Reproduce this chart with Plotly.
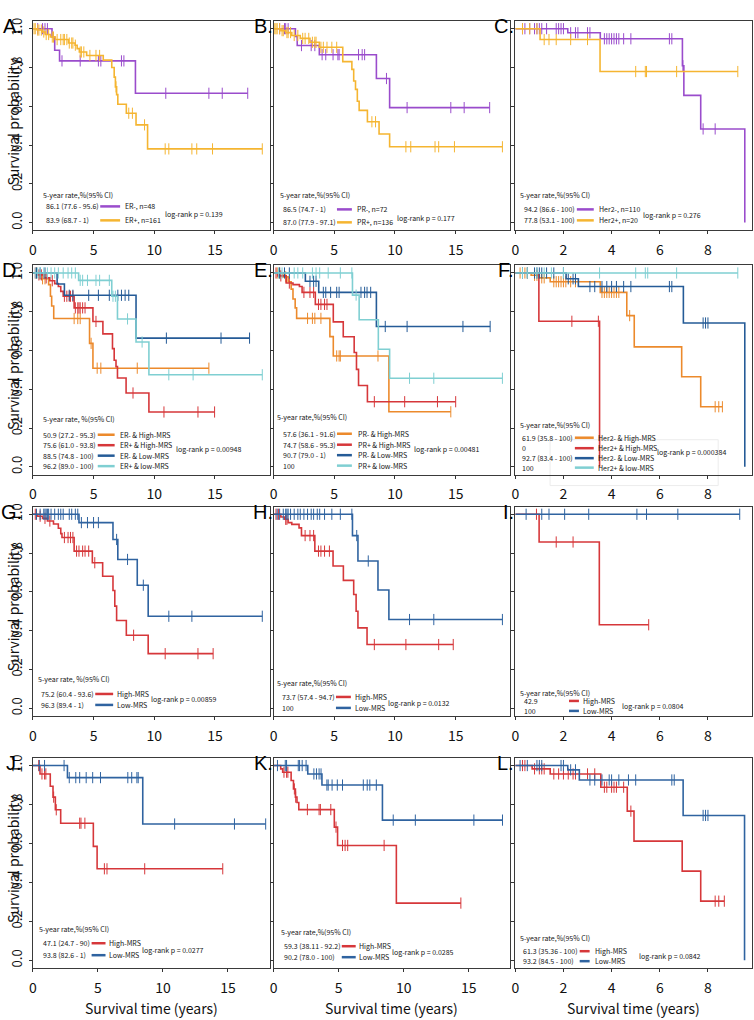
import plotly.graph_objects as go

# ------------------------------------------------------------------ DATA
# Each curve: event times (t), survival after each event (s), last follow-up (end), censor times (c)
# Panel A  (ER)
A_erneg_t = [1.58, 1.8, 2.2, 8.45]
A_erneg_s = [0.957, 0.889, 0.834, 0.667]
A_erneg_end = 17.7
A_erneg_c = [0.4, 0.8, 1.0, 1.2, 2.4, 3.9, 5.4, 5.6, 7.3, 7.5, 10.95, 14.5, 15.6, 17.7]
A_erpos_t = [0.35, 0.76, 1.03, 1.44, 1.85, 2.93, 3.48, 3.65, 3.83, 4.43, 5.8, 6.5, 6.7, 6.8, 6.9, 7.0, 7.7, 8.5, 9.45]
A_erpos_s = [0.993, 0.983, 0.97, 0.957, 0.944, 0.926, 0.915, 0.897, 0.88, 0.862, 0.838, 0.80, 0.75, 0.70, 0.66, 0.61, 0.564, 0.504, 0.38]
A_erpos_end = 18.9
A_erpos_c = [0.1, 0.2, 0.4, 0.5, 0.7, 0.9, 1.1, 1.3, 1.6, 1.7, 2.0, 2.3, 2.5, 2.6, 2.8, 3.0, 3.2, 3.3, 3.5, 3.9,
             4.0, 4.2, 4.7, 5.2, 5.5, 6.85, 7.9, 8.2, 9.2, 10.9, 11.2, 13.1, 13.5, 14.8, 18.9]
# Panel B  (PR)
B_prneg_t = [1.8, 1.95, 3.77, 8.47, 9.56]
B_prneg_s = [0.96, 0.913, 0.866, 0.743, 0.593]
B_prneg_end = 17.8
B_prneg_c = [0.5, 0.9, 1.0, 1.2, 2.3, 3.1, 3.4, 4.0, 4.3, 4.9, 5.3, 5.4, 7.0, 7.3, 7.5, 9.3, 11.0, 14.6, 15.7, 17.8]
B_prpos_t = [0.6, 1.0, 1.5, 2.2, 3.0, 3.77, 5.7, 6.45, 6.6, 6.75, 6.9, 7.05, 7.73, 8.69, 9.56]
B_prpos_s = [0.99, 0.98, 0.965, 0.95, 0.93, 0.904, 0.83, 0.79, 0.73, 0.687, 0.626, 0.579, 0.52, 0.457, 0.391]
B_prpos_end = 18.85
B_prpos_c = [0.1, 0.2, 0.3, 0.5, 0.7, 0.8, 1.1, 1.2, 1.4, 1.7, 2.0, 2.4, 2.6, 2.9, 3.2, 3.4, 3.5, 3.9, 4.1, 4.4,
             4.8, 5.2, 8.1, 8.4, 10.9, 11.3, 13.3, 13.6, 14.9, 18.85]
# Panel C  (Her2)
C_h2neg_t = [2.18, 3.53, 6.94, 7.0, 7.7, 9.53]
C_h2neg_s = [0.979, 0.948, 0.809, 0.656, 0.483, 0.0]
C_h2neg_end = 9.53
C_h2neg_c = [0.3, 0.4, 0.6, 0.8, 0.9, 1.0, 1.1, 1.3, 1.7, 1.8, 1.9, 2.0, 2.3, 2.5, 2.6, 3.0, 3.1, 3.7, 3.8, 3.9,
             4.0, 4.1, 4.2, 4.3, 4.5, 4.8, 6.4, 6.5, 6.96, 7.8, 8.3]
C_h2pos_t = [1.03, 3.52]
C_h2pos_s = [0.944, 0.779]
C_h2pos_end = 9.24
C_h2pos_c = [0.3, 0.6, 0.9, 1.2, 1.4, 1.7, 2.3, 3.0, 5.0, 5.4, 5.45, 6.7, 9.24]
# Panel D  (ER x MRS)
D_nh_t = [0.6, 1.3, 1.45, 1.55, 1.72, 4.67, 4.95]
D_nh_s = [0.97, 0.94, 0.88, 0.83, 0.765, 0.637, 0.509]
D_nh_end = 14.5
D_nh_c = [0.3, 0.8, 1.0, 3.4, 3.7, 3.9, 4.8, 5.3, 5.6, 8.6, 14.5]
D_ph_t = [0.4, 0.9, 1.4, 1.8, 2.1, 2.3, 2.5, 3.4, 4.95, 5.77, 6.56, 6.7, 6.85, 6.97, 7.68, 9.56]
D_ph_s = [0.99, 0.975, 0.96, 0.945, 0.93, 0.905, 0.88, 0.82, 0.75, 0.686, 0.61, 0.55, 0.517, 0.458, 0.381, 0.283]
D_ph_end = 14.97
D_ph_c = [0.2, 0.5, 0.7, 1.1, 1.6, 2.6, 2.8, 3.0, 3.1, 3.3, 3.5, 3.7, 3.8, 3.9, 4.1, 4.3, 5.2, 8.25, 10.8, 13.6, 14.97]
D_nl_t = [2.0, 2.6, 8.5]
D_nl_s = [0.943, 0.885, 0.664]
D_nl_end = 17.85
D_nl_c = [0.3, 0.6, 1.0, 3.0, 3.3, 4.6, 5.4, 6.3, 7.0, 7.3, 7.6, 7.9, 11.0, 15.5, 17.85]
D_pl_t = [3.77, 6.5, 6.97, 8.5, 9.56]
D_pl_s = [0.962, 0.88, 0.763, 0.644, 0.475]
D_pl_end = 18.9
D_pl_c = [0.2, 0.4, 0.6, 0.9, 1.2, 1.5, 1.8, 2.1, 2.5, 2.9, 3.2, 3.5, 3.9, 4.1, 4.5, 5.2, 5.5, 6.3, 6.6, 6.8,
          7.8, 9.0, 11.2, 13.2, 18.9]
# Panel E  (PR x MRS)
E_nh_t = [0.77, 1.2, 1.45, 1.6, 1.78, 1.9, 4.64, 4.92, 9.5]
E_nh_s = [0.98, 0.955, 0.917, 0.866, 0.82, 0.766, 0.672, 0.572, 0.284]
E_nh_end = 14.6
E_nh_c = [0.3, 0.5, 1.0, 2.8, 3.2, 3.4, 3.9, 5.2, 5.4, 5.5, 8.6, 14.6]
E_ph_t = [0.35, 1.04, 1.6, 2.13, 2.35, 3.44, 4.92, 5.74, 6.64, 6.83, 7.0, 7.73]
E_ph_s = [0.985, 0.948, 0.94, 0.93, 0.9, 0.838, 0.748, 0.671, 0.59, 0.503, 0.42, 0.336]
E_ph_end = 15.0
E_ph_c = [0.2, 0.6, 1.3, 2.5, 3.0, 3.3, 3.7, 3.9, 4.2, 4.4, 8.3, 10.8, 13.5, 15.0]
E_nl_t = [2.62, 3.72, 8.47]
E_nl_s = [0.957, 0.9, 0.724]
E_nl_end = 17.84
E_nl_c = [0.5, 0.9, 1.3, 3.0, 3.3, 3.5, 4.1, 4.3, 4.7, 5.2, 5.4, 7.2, 7.5, 7.7, 8.0, 9.2, 11.0, 15.6, 17.84]
E_pl_t = [6.5, 7.05, 8.63, 9.56]
E_pl_s = [0.886, 0.759, 0.607, 0.457]
E_pl_end = 18.85
E_pl_c = [0.4, 0.7, 1.7, 2.0, 2.4, 3.2, 3.5, 3.8, 4.5, 5.5, 6.45, 6.8, 11.2, 13.2, 18.85]
# Panel F  (Her2 x MRS)
F_nh_t = [0.66, 1.0, 1.45, 3.53, 4.63, 4.94, 6.91, 7.7]
F_nh_s = [0.988, 0.975, 0.955, 0.9, 0.78, 0.619, 0.465, 0.31]
F_nh_end = 8.6
F_nh_c = [0.2, 0.4, 0.5, 0.8, 0.9, 1.1, 1.2, 1.6, 1.7, 1.8, 1.9, 2.0, 2.1, 2.3, 2.5, 3.6, 3.7, 3.8, 3.9, 4.0,
          4.1, 4.2, 4.3, 4.75, 8.3, 8.45, 8.6]
F_ph_t = [0.98, 3.5]
F_ph_s = [0.751, 0.0]
F_ph_end = 3.5
F_ph_c = [2.35, 3.45]
F_nl_t = [2.11, 2.62, 6.98, 9.53]
F_nl_s = [0.97, 0.93, 0.742, 0.0]
F_nl_end = 9.53
F_nl_c = [0.3, 0.5, 0.8, 0.9, 1.0, 1.1, 1.3, 1.6, 2.0, 2.2, 2.4, 2.5, 3.1, 3.3, 3.6, 3.8, 4.0, 4.2, 4.5, 4.8,
          6.4, 6.5, 7.8, 7.9, 8.0]
F_pl_t = []
F_pl_s = []
F_pl_end = 9.24
F_pl_c = [0.3, 0.5, 0.9, 1.2, 1.5, 2.0, 3.5, 5.0, 5.4, 5.5, 6.7, 9.24]
# Panel G
G_hi_t = [0.4, 0.8, 1.2, 1.7, 2.1, 2.3, 2.4, 3.4, 4.9, 5.75, 6.6, 6.75, 6.9, 7.7, 9.5]
G_hi_s = [0.99, 0.979, 0.965, 0.95, 0.928, 0.9, 0.88, 0.81, 0.75, 0.68, 0.607, 0.526, 0.452, 0.376, 0.281]
G_hi_end = 14.85
G_hi_c = [0.2, 0.6, 1.0, 1.4, 2.6, 2.9, 3.1, 3.3, 3.6, 3.8, 4.1, 4.3, 4.6, 5.1, 8.3, 10.9, 13.6, 14.85]
G_lo_t = [3.8, 6.6, 7.0, 8.6, 9.5]
G_lo_s = [0.957, 0.87, 0.767, 0.634, 0.474]
G_lo_end = 18.9
G_lo_c = [0.3, 0.6, 0.9, 1.0, 1.1, 1.2, 1.3, 1.5, 1.8, 2.1, 2.3, 2.5, 3.0, 3.2, 3.5, 3.7, 4.0, 4.5, 5.0, 5.4,
          6.9, 7.8, 9.1, 11.2, 13.1, 18.9]
# Panel H
H_hi_t = [0.6, 0.9, 1.2, 1.5, 2.1, 2.3, 3.4, 4.9, 5.75, 6.6, 6.8, 6.95, 7.7]
H_hi_s = [0.986, 0.974, 0.957, 0.948, 0.93, 0.89, 0.81, 0.733, 0.659, 0.586, 0.5, 0.414, 0.328]
H_hi_end = 14.8
H_hi_c = [0.2, 0.4, 1.0, 1.1, 2.6, 3.0, 3.3, 3.7, 3.9, 4.2, 4.6, 8.3, 10.9, 13.6, 14.8]
H_lo_t = [6.5, 6.95, 8.6, 9.5]
H_lo_s = [0.89, 0.759, 0.609, 0.457]
H_lo_end = 18.85
H_lo_c = [0.3, 0.5, 0.8, 1.0, 1.1, 1.2, 1.4, 1.7, 2.0, 2.2, 2.5, 2.8, 3.1, 3.3, 3.6, 3.8, 4.2, 4.8, 5.5, 6.45,
          6.85, 7.8, 11.2, 13.2, 18.85]
# Panel I
I_hi_t = [0.99, 3.49]
I_hi_s = [0.857, 0.43]
I_hi_end = 5.54
I_hi_c = [0.88, 1.7, 2.4, 5.54]
I_lo_t = []
I_lo_s = []
I_lo_end = 9.32
I_lo_c = [0.45, 1.1, 1.4, 2.05, 3.05, 5.05, 5.45, 6.75, 9.32]
# Panel J
J_hi_t = [0.55, 1.34, 1.55, 1.73, 2.14, 4.65, 4.94]
J_hi_s = [0.957, 0.894, 0.838, 0.773, 0.704, 0.585, 0.47]
J_hi_end = 14.6
J_hi_c = [0.45, 0.7, 0.9, 1.0, 1.6, 1.8, 3.6, 3.7, 4.0, 5.5, 5.7, 8.6, 14.6]
J_lo_t = [2.66, 8.45]
J_lo_s = [0.938, 0.70]
J_lo_end = 17.9
J_lo_c = [0.5, 0.9, 2.4, 2.8, 3.3, 3.6, 4.1, 4.6, 5.2, 7.3, 7.6, 8.0, 8.1, 10.9, 15.5, 17.9]
# Panel K
K_hi_t = [0.55, 0.7, 1.35, 1.53, 1.68, 1.8, 1.94, 4.67, 4.92, 9.44]
K_hi_s = [0.983, 0.966, 0.923, 0.88, 0.838, 0.81, 0.774, 0.684, 0.59, 0.294]
K_hi_end = 14.4
K_hi_c = [0.8, 1.0, 1.1, 1.6, 1.7, 2.6, 3.5, 3.6, 4.4, 4.8, 5.3, 5.5, 5.7, 8.5, 14.4]
K_lo_t = [2.63, 3.72, 8.37]
K_lo_s = [0.957, 0.90, 0.72]
K_lo_end = 17.6
K_lo_c = [0.3, 0.9, 1.0, 1.9, 2.0, 2.2, 2.5, 3.1, 3.3, 3.5, 3.65, 4.1, 4.2, 4.5, 4.9, 5.3, 6.9, 7.2, 7.4, 7.9,
          9.2, 10.9, 15.4, 17.6]
# Panel L
L_hi_t = [0.7, 1.45, 3.55, 4.65, 4.93, 6.93, 7.7]
L_hi_s = [0.983, 0.957, 0.889, 0.766, 0.612, 0.458, 0.304]
L_hi_end = 8.68
L_hi_c = [0.3, 0.4, 0.8, 1.0, 1.1, 1.2, 1.6, 1.8, 2.0, 2.2, 2.4, 2.5, 3.0, 3.3, 3.7, 3.8, 4.0, 4.1, 4.2, 4.5,
          4.8, 8.3, 8.45, 8.68]
L_lo_t = [2.18, 2.66, 6.97, 9.52]
L_lo_s = [0.978, 0.926, 0.744, 0.0]
L_lo_end = 9.52
L_lo_c = [0.2, 0.5, 0.9, 1.0, 1.1, 1.9, 2.0, 2.3, 2.5, 3.1, 3.3, 3.6, 3.9, 4.0, 4.3, 4.7, 5.0, 6.5, 6.6, 7.8,
          7.9, 8.0]

# legend texts
panel_letters = ["A.", "B.", "C.", "D.", "E.", "F.", "G.", "H.", "I.", "J.", "K.", "L."]
A_rates = ["86.1 (77.6 - 95.6)", "83.9 (68.7 - 1)"]
A_labels = ["ER-, n=48", "ER+, n=161"]
B_rates = ["86.5 (74.7 - 1)", "87.0 (77.9 - 97.1)"]
B_labels = ["PR-, n=72", "PR+, n=136"]
C_rates = ["94.2 (86.6 - 100)", "77.8 (53.1 - 100)"]
C_labels = ["Her2-, n=110", "Her2+, n=20"]
D_rates = ["50.9 (27.2 - 95.3)", "75.6 (61.0 - 93.8)", "88.5 (74.8 - 100)", "96.2 (89.0 - 100)"]
D_labels = ["ER- & High-MRS", "ER+ & High-MRS", "ER- & Low-MRS", "ER+ & low-MRS"]
E_rates = ["57.6 (36.1 - 91.6)", "74.7 (58.6 - 95.3)", "90.7 (79.0 - 1)", "100"]
E_labels = ["PR- & High-MRS", "PR+ & High-MRS", "PR- & Low-MRS", "PR+ & low-MRS"]
F_rates = ["61.9 (35.8 - 100)", "0", "92.7 (83.4 - 100)", "100"]
F_labels = ["Her2- & High-MRS", "Her2+ & High-MRS", "Her2- & Low-MRS", "Her2+ & low-MRS"]
G_rates = ["75.2 (60.4 - 93.6)", "96.3 (89.4 - 1)"]
H_rates = ["73.7 (57.4 - 94.7)", "100"]
I_rates = ["42.9", "100"]
J_rates = ["47.1 (24.7 - 90)", "93.8 (82.6 - 1)"]
K_rates = ["59.3 (38.11 - 92.2)", "90.2 (78.0 - 100)"]
L_rates = ["61.3 (35.36 - 100)", "93.2 (84.5 - 100)"]
MRS_labels = ["High-MRS", "Low-MRS"]
pvals = ["0.139", "0.177", "0.276", "0.00948", "0.00481", "0.000384",
         "0.00859", "0.0132", "0.0804", "0.0277", "0.0285", "0.0842"]
headers = ["5-year rate,%(95% CI)", "5-year rate,%(95% CI)", "5-year rate,%(95% CI)",
           "5-year rate, %(95% CI)", "5-year rate,%(95% CI)", "5-year rate,%(95% CI)",
           "5-year rate, %(95% CI)", "5-year rate,%(95% CI)", "5-year rate,%(95% CI)",
           "5-year rate,%(95% CI)", "5-year rate,%(95% CI)", "5-year rate,%(95% CI)"]
y_ticks = [0.0, 0.2, 0.4, 0.6, 0.8, 1.0]
y_ticklabels = ["0.0", "0.2", "0.4", "0.6", "0.8", "1.0"]
x_ticks_long = [0, 5, 10, 15]
x_ticks_short = [0, 2, 4, 6, 8]

# ------------------------------------------------------------------ STYLE
PURPLE = "#9a4ccc"
GOLD = "#f5b531"
ORANGE = "#ec8a2c"
RED = "#d6373a"
NAVY = "#255b97"
CYAN = "#7fcfd2"
BLUE = "#2f63a0"

panels = [
    [(A_erneg_t, A_erneg_s, A_erneg_end, A_erneg_c, PURPLE), (A_erpos_t, A_erpos_s, A_erpos_end, A_erpos_c, GOLD)],
    [(B_prneg_t, B_prneg_s, B_prneg_end, B_prneg_c, PURPLE), (B_prpos_t, B_prpos_s, B_prpos_end, B_prpos_c, GOLD)],
    [(C_h2neg_t, C_h2neg_s, C_h2neg_end, C_h2neg_c, PURPLE), (C_h2pos_t, C_h2pos_s, C_h2pos_end, C_h2pos_c, GOLD)],
    [(D_nh_t, D_nh_s, D_nh_end, D_nh_c, ORANGE), (D_ph_t, D_ph_s, D_ph_end, D_ph_c, RED),
     (D_nl_t, D_nl_s, D_nl_end, D_nl_c, NAVY), (D_pl_t, D_pl_s, D_pl_end, D_pl_c, CYAN)],
    [(E_nh_t, E_nh_s, E_nh_end, E_nh_c, ORANGE), (E_ph_t, E_ph_s, E_ph_end, E_ph_c, RED),
     (E_nl_t, E_nl_s, E_nl_end, E_nl_c, NAVY), (E_pl_t, E_pl_s, E_pl_end, E_pl_c, CYAN)],
    [(F_nh_t, F_nh_s, F_nh_end, F_nh_c, ORANGE), (F_ph_t, F_ph_s, F_ph_end, F_ph_c, RED),
     (F_nl_t, F_nl_s, F_nl_end, F_nl_c, NAVY), (F_pl_t, F_pl_s, F_pl_end, F_pl_c, CYAN)],
    [(G_hi_t, G_hi_s, G_hi_end, G_hi_c, RED), (G_lo_t, G_lo_s, G_lo_end, G_lo_c, BLUE)],
    [(H_hi_t, H_hi_s, H_hi_end, H_hi_c, RED), (H_lo_t, H_lo_s, H_lo_end, H_lo_c, BLUE)],
    [(I_hi_t, I_hi_s, I_hi_end, I_hi_c, RED), (I_lo_t, I_lo_s, I_lo_end, I_lo_c, BLUE)],
    [(J_hi_t, J_hi_s, J_hi_end, J_hi_c, RED), (J_lo_t, J_lo_s, J_lo_end, J_lo_c, BLUE)],
    [(K_hi_t, K_hi_s, K_hi_end, K_hi_c, RED), (K_lo_t, K_lo_s, K_lo_end, K_lo_c, BLUE)],
    [(L_hi_t, L_hi_s, L_hi_end, L_hi_c, RED), (L_lo_t, L_lo_s, L_lo_end, L_lo_c, BLUE)],
]
legend_rates = [A_rates, B_rates, C_rates, D_rates, E_rates, F_rates, G_rates, H_rates, I_rates, J_rates, K_rates, L_rates]
legend_labels = [A_labels, B_labels, C_labels, D_labels, E_labels, F_labels] + [MRS_labels] * 6

# legend placement offsets (px): header x/up, values x, row heights above box bottom, line x0/x1, label x, p x/up
leg_pos = [
    (8, 35, 11, [24, 10], 58, 78, 81, 118, 16),
    (4, 35, 7, [21, 8], 51, 66, 69, 107, 12),
    (3, 35, 7, [21, 10], 54, 71, 74, 114, 15),
    (8, 56, 8.5, [40, 29.5, 19, 8.5], 58, 75, 78, 135, 26),
    (1, 58, 7, [41, 30, 19.5, 9], 51, 66, 70, 126, 26),
    (3, 50, 5, [37, 26.5, 16.5, 7], 54, 73, 75, 133, 23),
    (3, 37, 6, [22, 11], 53, 71, 73, 97, 17),
    (1, 33, 6, [19, 8], 49, 64, 66, 86, 13),
    (3, 23, 7, [15, 5], 54, 64, 66, 105, 10),
    (4, 39, 8, [25, 13], 54, 68, 69, 99, 18),
    (5, 36, 8, [22, 11], 48, 62, 63, 95, 16),
    (3, 30, 6, [17, 7], 54, 64, 67, 112, 12),
]

W, H = 754, 1020
COL_L = [29, 271, 514]
COL_W = 238
ROW_T = [18, 263, 505, 757]
ROW_B = [228, 473, 715, 968]

HUMAN = "Noto Sans CJK SC, Source Sans Pro, Lato, sans-serif"
LEG_SIZE = 7

_CW = {".": .26, ",": .26, " ": .23, "(": .32, ")": .32, "-": .33, "%": .86, "&": .66, "=": .55, "+": .55,
       "i": .25, "l": .26, "r": .35, "t": .35, "m": .84, "w": .74, "I": .28}


def text_w(s, size=LEG_SIZE):
    w = 0.0
    for ch in s:
        if ch in _CW:
            w += _CW[ch]
        elif ch.isdigit():
            w += .55
        elif ch.isupper():
            w += .62
        else:
            w += .52
    return w * size


def surv_at(t, times, survs):
    v = 1.0
    for ti, si in zip(times, survs):
        if ti <= t:
            v = si
    return v


def px_x(p):
    return p / W


def px_y(p):
    return 1 - p / H


fig = go.Figure()
layout = dict(
    width=W, height=H, margin=dict(l=0, r=0, t=0, b=0),
    paper_bgcolor="white", plot_bgcolor="white", showlegend=False,
)
annotations = []
shapes = []


def text_ann(txt, xp, yp, size=LEG_SIZE, anchor="left"):
    return dict(text=txt, x=px_x(xp), y=px_y(yp), xref="paper", yref="paper",
                xanchor=anchor, yanchor="middle", showarrow=False,
                font=dict(family=HUMAN, size=size, color="#151515"))


for k in range(12):
    r, c = divmod(k, 3)
    n = k + 1
    xa = "x" if n == 1 else f"x{n}"
    ya = "y" if n == 1 else f"y{n}"
    xkey = "xaxis" if n == 1 else f"xaxis{n}"
    ykey = "yaxis" if n == 1 else f"yaxis{n}"
    left, right = COL_L[c], COL_L[c] + COL_W
    top, bot = ROW_T[r], ROW_B[r]
    if c == 2:
        xr, xt = [0, 9.83], x_ticks_short
    elif r == 3:
        xr, xt = [0, 18.2], x_ticks_long
    else:
        xr, xt = [0, 19.5], x_ticks_long
    layout[xkey] = dict(
        domain=[px_x(left), px_x(right)], range=xr, anchor=ya,
        tickvals=xt, ticks="outside", ticklen=3, tickcolor="#333",
        showline=True, mirror=True, linecolor="#3a3a3a", linewidth=1,
        showgrid=False, zeroline=False,
        tickfont=dict(family=HUMAN, size=14, color="#111"), ticklabelstandoff=4,
    )
    layout[ykey] = dict(
        domain=[px_y(bot), px_y(top)], range=[-0.04, 1.04], anchor=xa,
        tickvals=y_ticks, ticktext=y_ticklabels, ticks="outside", ticklen=3, tickcolor="#333",
        showline=True, mirror=True, linecolor="#3a3a3a", linewidth=1,
        showgrid=False, zeroline=False, showticklabels=(c == 0), tickangle=-90,
        tickfont=dict(family=HUMAN, size=13, color="#111"), ticklabelstandoff=2,
    )
    # curves
    for (tt, ss, end, cens, col) in panels[k]:
        xs = [0.0] + list(tt)
        ys = [1.0] + list(ss)
        if xs[-1] < end:
            xs.append(end)
            ys.append(ys[-1])
        fig.add_trace(go.Scatter(x=xs, y=ys, mode="lines", line=dict(color=col, width=1.6, shape="hv"),
                                 xaxis=xa, yaxis=ya, hoverinfo="skip"))
        fig.add_trace(go.Scatter(x=cens, y=[surv_at(t, tt, ss) for t in cens], mode="markers",
                                 marker=dict(symbol="line-ns", size=8, line=dict(color=col, width=1)),
                                 xaxis=xa, yaxis=ya, hoverinfo="skip"))
    # legend (positions pushed right where the text is wider than in the original)
    hx, hy, vx, rows, lx0, lx1, tx, ppx, ppy = leg_pos[k]
    vw = max(text_w(s) for s in legend_rates[k])
    shift = max(0.0, vx + vw + 5 - lx0)
    lx0, lx1, tx, ppx = lx0 + shift, lx1 + shift, tx + shift, ppx + shift
    lw = max(text_w(s) for s in legend_labels[k])
    ppx = max(ppx, tx + lw + 5)
    annotations.append(text_ann(headers[k], left + hx, bot - hy))
    for i, ry in enumerate(rows):
        col = panels[k][i][4]
        annotations.append(text_ann(legend_rates[k][i], left + vx, bot - ry))
        annotations.append(text_ann(legend_labels[k][i], left + tx, bot - ry))
        shapes.append(dict(type="line", xref="paper", yref="paper", x0=px_x(left + lx0), x1=px_x(left + lx1),
                           y0=px_y(bot - ry), y1=px_y(bot - ry), line=dict(color=col, width=2.5)))
    annotations.append(text_ann("log-rank p = " + pvals[k], left + ppx, bot - ppy))
    # panel letter
    lx = 20 if c == 0 else left + 1
    annotations.append(dict(text=panel_letters[k], x=px_x(lx), y=px_y(top + 5), xref="paper", yref="paper",
                            xanchor="right", yanchor="middle", showarrow=False,
                            font=dict(family="Liberation Sans, Arial, sans-serif", size=20, color="#000")))
    if c == 0:
        annotations.append(dict(text="Survival probability", x=px_x(9), y=px_y((top + bot) / 2 - 4), xref="paper",
                                yref="paper", xanchor="center", yanchor="middle", textangle=-90, showarrow=False,
                                font=dict(family=HUMAN, size=14, color="#111")))
    if r == 3:
        annotations.append(dict(text="Survival time (years)", x=px_x((left + right) / 2), y=px_y(1008),
                                xref="paper", yref="paper", xanchor="center", yanchor="middle", showarrow=False,
                                font=dict(family=HUMAN, size=14, color="#111")))

# faint ghost box in panel F
shapes.append(dict(type="rect", xref="paper", yref="paper", x0=px_x(549), x1=px_x(718), y0=px_y(484), y1=px_y(438),
                   line=dict(color="#ececec", width=1), layer="below"))

layout["annotations"] = annotations
layout["shapes"] = shapes
fig.update_layout(**layout)
fig.write_html("out.html", config={"displayModeBar": False},
               post_script="document.body.style.margin='0';document.body.style.padding='0';"
                           "document.documentElement.style.overflow='hidden';")
